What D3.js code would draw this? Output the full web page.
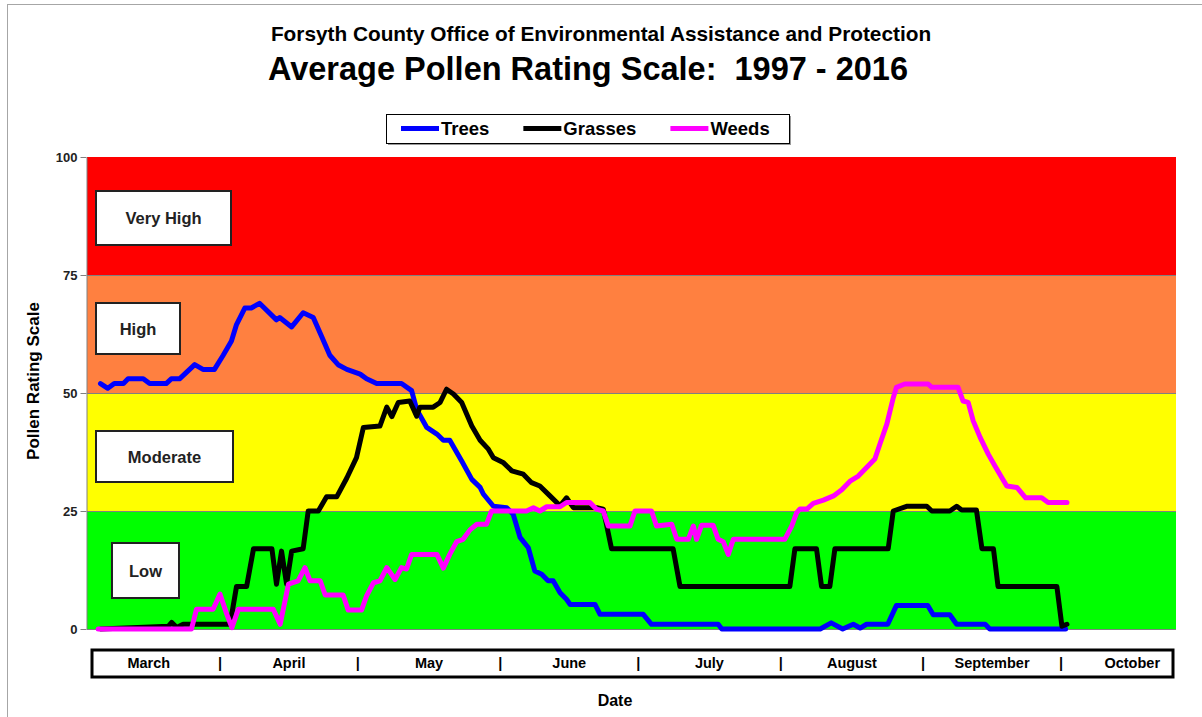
<!DOCTYPE html>
<html>
<head>
<meta charset="utf-8">
<script src="https://cdn.jsdelivr.net/npm/d3@7"></script>
<style>
  body { margin: 0; background: #fff; }
  svg { display: block; font-family: Arial, 'Liberation Sans', sans-serif; }
</style>
</head>
<body>
<svg></svg>
<script>
const months = ['March', 'April', 'May', 'June', 'July', 'August', 'September', 'October'];
const monthLengths = [31, 30, 31, 30, 31, 31, 30, 31];
const yTicks = [0, 25, 50, 75, 100];
const bandNames = ['Low', 'Moderate', 'High', 'Very High'];
const bandEdges = [0, 25, 50, 75, 100];
const bandColors = ['#00ff00', '#ffff00', '#ff8040', '#ff0000'];
const seriesNames = ['Trees', 'Grasses', 'Weeds'];
const seriesColors = ['#0000ff', '#000000', '#ff00ff'];

// [days since March 1, rating]
const trees = [[5,52],[6.6,51],[8,52],[10,52],[11,53],[14.3,53],[15.7,52],[19.3,52],[20.4,53],[22.2,53],
  [25.5,56],[27.3,55],[29.8,55],[31.7,58],[33.5,61],[34.6,64.5],[36.4,68],[37.8,68],[39.6,69],[43.3,65.5],
  [44,66],[46.6,64],[49.1,67],[51.3,66],[53.1,62],[54.9,58],[56.7,56],[58.6,55],[61.5,54],[62.9,53],
  [65.1,52],[70.5,52],[72.7,50.5],[73.8,46.5],[76,42.7],[78.2,41.3],[79.6,40],[81,40],[83.6,35.6],[85.8,31.7],
  [87.6,30],[88.3,28.6],[90.5,26],[93.4,25.7],[94.8,24.3],[96.3,19.4],[98.1,17.2],[99.5,12.3],[101,11.6],
  [102.4,10.2],[103.5,10.2],[105,7.7],[106.4,6.3],[107.2,5.2],[112.6,5.2],[113.7,3.1],[123.1,3.1],[124.9,1],
  [139.4,1],[140.2,0],[161.6,0],[164,1.3],[166.5,0],[168.8,1],[170.3,0.2],[171.7,1],[176.3,1],[178.2,5],
  [185,5],[186.2,3],[189.8,3],[191.3,1],[197.5,1],[198.5,0],[215,0]];
const grasses = [[5,0],[19.8,0.6],[20.5,1.4],[21.6,0.3],[23,1],[33.2,1],[34.6,9],[36.8,9],[38.3,17],[42.3,17],
  [43.3,9.5],[44.4,16.5],[45.5,9.5],[46.6,16.5],[49.1,17],[50.2,25],[52.4,25],[54.2,28],[56.4,28],[58.6,32],
  [60.7,36.3],[62.2,42.7],[65.8,43],[67.3,47],[68.4,45],[69.8,48],[72.3,48.3],[73.8,45.1],[74.5,47],[77.4,47],
  [78.9,48],[80.3,50.8],[81.8,49.8],[83.6,48],[84.7,45.5],[85.8,43],[87.6,40],[89.4,38.1],[90.5,36.3],
  [92.6,35.3],[94.5,33.5],[97,32.8],[98.8,31],[100.6,30.3],[102.8,28.2],[105,26.1],[106.4,27.8],[107.9,25.7],
  [113,25.7],[114.4,25.4],[116.2,17],[129.6,17],[131.1,9],[155,9],[156.1,17],[160.8,17],[161.9,9],[163.7,9],
  [164.8,17],[176.4,17],[177.5,25],[180.4,26],[184.8,26],[185.9,25],[189.8,25],[191.3,26],[192.4,25.2],
  [195.6,25.2],[196.8,17],[199.3,17],[200.3,9],[213.1,9],[214.2,0.6],[215.3,1]];
const weeds = [[4.5,0],[24.8,0],[25.9,4.2],[29.5,4.2],[31,7.4],[32.5,3.1],[33.6,0.3],[35,4.2],[42.6,4.2],
  [44.1,1],[45.9,9.5],[48,10.2],[49.5,13],[50.6,10.2],[52.8,10.2],[53.9,7.2],[57.8,7.2],[58.9,4],[61.8,4],
  [62.9,7],[64.4,9.8],[65.8,10.2],[67.3,13],[69.1,10.5],[70.5,13],[71.6,12.7],[72.7,15.8],[78.2,15.8],
  [79.6,12.9],[81,15.8],[82.5,18.5],[83.9,19],[85.4,21],[86.9,22.2],[89,22.2],[90.1,25],[97.7,25],[99.2,25.7],
  [100.6,25],[102.1,25.9],[105,25.9],[106.4,26.8],[111.5,26.8],[112.9,25.4],[114.4,25],[115.5,21.8],
  [120.2,21.8],[121.3,25],[124.9,25],[126,21.8],[129.3,22.2],[130.4,19],[132.9,19],[134,21.8],[134.7,19],
  [135.8,22],[138.3,22],[139.4,19],[140.5,18.5],[141.6,15.8],[142.7,19],[153.9,19],[155.4,21.8],[156.5,24.7],
  [157.2,25.4],[158.7,25.4],[160.1,26.6],[162.3,27.3],[164.5,28.2],[166.3,29.5],[168.2,31.4],[169.9,32.4],
  [171.7,34.2],[173.5,36],[174.6,39.2],[176.1,43.4],[177.5,49],[178.2,51.2],[180,51.9],[185.1,51.9],
  [185.9,51.2],[191.6,51.2],[192.7,48.3],[193.8,48],[194.9,44.1],[196.4,40.6],[198.2,37],[199.6,34.6],
  [201.1,32.1],[202.2,30.3],[204.4,30],[206.3,27.8],[209.8,27.8],[211.2,26.8],[215.3,26.8]];

const [svgWidth, svgHeight] = [1202, 717];
const svg = d3.select('svg')
  .attr('width', svgWidth)
  .attr('height', svgHeight);

const plot = { left: 87, right: 1176, top: 157, bottom: 629 };
const monthStarts = d3.cumsum([0, ...monthLengths]);
const x = d3.scaleLinear()
  .domain([0, monthStarts[7]])
  .range([77.5, 1061]);
const y = d3.scaleLinear()
  .domain([0, 100])
  .range([plot.bottom, plot.top]);

// outer frame
svg.append('rect')
  .attr('x', 7.5).attr('y', 4.5)
  .attr('width', 1210).attr('height', 730)
  .attr('fill', 'none')
  .attr('stroke', '#a6a6a6');

// titles
svg.append('text')
  .attr('x', 601).attr('y', 41)
  .attr('text-anchor', 'middle')
  .attr('font-weight', 'bold')
  .attr('font-size', 20.8)
  .text('Forsyth County Office of Environmental Assistance and Protection');
svg.append('text')
  .attr('x', 588).attr('y', 80)
  .attr('text-anchor', 'middle')
  .attr('font-weight', 'bold')
  .attr('font-size', 32.5)
  .attr('xml:space', 'preserve')
  .style('white-space', 'pre')
  .text('Average Pollen Rating Scale:  1997 - 2016');

// rating bands
const bands = bandNames.map((name, i) => ({
  name, lo: bandEdges[i], hi: bandEdges[i + 1], color: bandColors[i]
}));
svg.append('g').selectAll('rect')
  .data(bands)
  .enter()
  .append('rect')
  .attr('x', plot.left)
  .attr('y', d => y(d.hi))
  .attr('width', plot.right - plot.left)
  .attr('height', d => y(d.lo) - y(d.hi))
  .attr('fill', d => d.color);
svg.append('g').selectAll('line')
  .data(bandEdges.slice(1, -1))
  .enter()
  .append('line')
  .attr('x1', plot.left).attr('x2', plot.right)
  .attr('y1', d => y(d) + 0.5).attr('y2', d => y(d) + 0.5)
  .attr('stroke', '#808080');

// y axis
const yAxis = svg.append('g')
  .attr('transform', `translate(${plot.left - 0.5},0)`)
  .call(d3.axisLeft(y).tickValues(yTicks).tickSize(6).tickPadding(3).tickSizeOuter(0));
yAxis.select('.domain').attr('stroke', '#808080');
yAxis.selectAll('.tick line').attr('stroke', '#808080');
yAxis.selectAll('.tick text')
  .attr('font-family', 'Arial, Liberation Sans, sans-serif')
  .attr('font-size', 13)
  .attr('font-weight', 'bold')
  .attr('fill', '#222');
svg.append('line')
  .attr('x1', plot.left).attr('x2', plot.right)
  .attr('y1', plot.bottom + 0.5).attr('y2', plot.bottom + 0.5)
  .attr('stroke', '#808080');

svg.append('text')
  .attr('transform', 'translate(39,381) rotate(-90)')
  .attr('text-anchor', 'middle')
  .attr('font-weight', 'bold')
  .attr('font-size', 17)
  .text('Pollen Rating Scale');

// band label boxes
const labelBoxes = [
  { x0: 112, x1: 179, y0: 543, y1: 598 },
  { x0: 96, x1: 233, y0: 431, y1: 482 },
  { x0: 96, x1: 180, y0: 303, y1: 354 },
  { x0: 96, x1: 231, y0: 191, y1: 245 }
];
const boxG = svg.append('g').selectAll('g')
  .data(bands)
  .enter()
  .append('g');
boxG.append('rect')
  .attr('x', (d, i) => labelBoxes[i].x0)
  .attr('y', (d, i) => labelBoxes[i].y0)
  .attr('width', (d, i) => labelBoxes[i].x1 - labelBoxes[i].x0)
  .attr('height', (d, i) => labelBoxes[i].y1 - labelBoxes[i].y0)
  .attr('fill', '#fff')
  .attr('stroke', '#222')
  .attr('stroke-width', 2);
boxG.append('text')
  .attr('x', (d, i) => (labelBoxes[i].x0 + labelBoxes[i].x1) / 2)
  .attr('y', (d, i) => (labelBoxes[i].y0 + labelBoxes[i].y1) / 2)
  .attr('text-anchor', 'middle')
  .attr('dominant-baseline', 'central')
  .attr('font-weight', 'bold')
  .attr('font-size', 16.5)
  .attr('fill', '#222')
  .text(d => d.name);

// series lines
const series = [trees, grasses, weeds].map((values, i) => ({
  name: seriesNames[i], color: seriesColors[i], values
}));
const line = d3.line()
  .x(d => x(d[0]))
  .y(d => y(d[1]));
svg.append('g').selectAll('path')
  .data(series)
  .enter()
  .append('path')
  .attr('d', d => line(d.values))
  .attr('fill', 'none')
  .attr('stroke', d => d.color)
  .attr('stroke-width', 5)
  .attr('stroke-linejoin', 'round')
  .attr('stroke-linecap', 'round');

// legend
const legend = svg.append('g');
legend.append('rect')
  .attr('x', 388).attr('y', 116)
  .attr('width', 403).attr('height', 29)
  .attr('fill', '#999');
legend.append('rect')
  .attr('x', 386.5).attr('y', 114.5)
  .attr('width', 403).attr('height', 29)
  .attr('fill', '#fff')
  .attr('stroke', '#000');
let lx = 401;
series.forEach(s => {
  legend.append('line')
    .attr('x1', lx).attr('x2', lx + 38)
    .attr('y1', 128.5).attr('y2', 128.5)
    .attr('stroke', s.color)
    .attr('stroke-width', 5);
  const t = legend.append('text')
    .attr('x', lx + 40).attr('y', 135)
    .attr('font-weight', 'bold')
    .attr('font-size', 18.5)
    .text(s.name);
  lx += 40 + t.node().getComputedTextLength() + 34;
});

// month strip
svg.append('rect')
  .attr('x', 92).attr('y', 650)
  .attr('width', 1081).attr('height', 27)
  .attr('fill', '#fff')
  .attr('stroke', '#000')
  .attr('stroke-width', 3);
svg.append('g').selectAll('text')
  .data(months)
  .enter()
  .append('text')
  .attr('x', (d, i) => x(monthStarts[i] + monthLengths[i] / 2))
  .attr('y', 668)
  .attr('text-anchor', 'middle')
  .attr('font-weight', 'bold')
  .attr('font-size', 14.5)
  .text(d => d);
svg.append('g').selectAll('text')
  .data(monthStarts.slice(1, 8))
  .enter()
  .append('text')
  .attr('x', d => x(d))
  .attr('y', 668)
  .attr('text-anchor', 'middle')
  .attr('font-weight', 'bold')
  .attr('font-size', 14.5)
  .text('|');

svg.append('text')
  .attr('x', 615).attr('y', 706)
  .attr('text-anchor', 'middle')
  .attr('font-weight', 'bold')
  .attr('font-size', 16)
  .text('Date');
</script>
</body>
</html>
